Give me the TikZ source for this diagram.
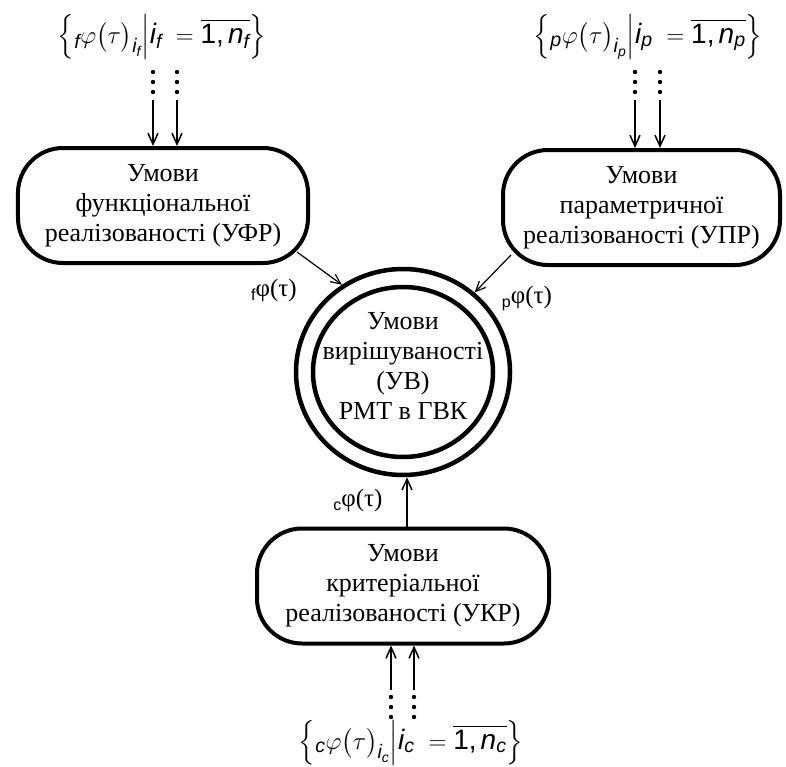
\documentclass[tikz,border=0pt]{standalone}
\usepackage{amsmath}
\usepackage{fontspec}
\setmainfont{Liberation Serif}
\newfontfamily\asans{Liberation Sans}
\usetikzlibrary{arrows.meta,calc,shapes.geometric}
\newcommand\boxfont{\fontsize{26bp}{30bp}\selectfont}
\newcommand\lblfont{\fontsize{25bp}{28bp}\selectfont}
\newcommand\frmfont{\fontsize{28bp}{32bp}\selectfont}
\newcommand\ai[1]{\text{\asans\itshape #1}}
\newcommand\setf[1]{$\left\{\vrule height 22bp depth 13bp width 0pt{}_{\ai{#1}}\varphi\bigl(\tau\bigr)_{\ai{i}_{\ai{#1}}}\middle|\ai{i}_{\ai{#1}}\;=\overline{\text{\asans 1,}\,\ai{n}_{\ai{#1}}}\right\}$}
\newcommand\lsub[1]{\raisebox{-4bp}{\asans\fontsize{16bp}{16bp}\selectfont #1}}
\begin{document}
\begin{tikzpicture}[x=1bp,y=-1bp,
  box/.style={draw, line width=4bp, rounded corners=45bp, minimum height=115bp, align=center, font=\boxfont, inner sep=0pt},
  ring/.style={draw, ellipse, line width=4.5bp, inner sep=0pt},
  arr/.style={-{Straight Barb[length=11bp,width=10bp]}, line width=1.5bp},
  darr/.style={-{Straight Barb[length=10bp,width=9bp]}, line width=1.2bp},
  lbl/.style={font=\lblfont, inner sep=0pt},
  frm/.style={inner sep=0pt, font=\frmfont},
  txt/.style={font=\boxfont, align=center, inner sep=0pt}]
\useasboundingbox (0,0) rectangle (786,767);

% boxes
\node[box, minimum width=290bp] (uf) at (163,205.5) {Умови\\функціональної\\реалізованості (УФР)};
\node[box, minimum width=277bp] (up) at (641.5,207.5) {Умови\\параметричної\\реалізованості (УПР)};
\node[box, minimum width=292bp] (uk) at (403,586) {Умови\\критеріальної\\реалізованості (УКР)};

% central double circle
\node[ring, minimum width=214bp, minimum height=206bp] (uv) at (403,372) {};
\node[ring, minimum width=180bp, minimum height=170bp] (uvi) at (403,372) {};
\node[txt] (uvt) at (403,366) {Умови\\вирішуваності\\(УВ)\\РМТ в ГВК};

% connectors to the circle
\draw[darr] ($(uf.south east)+(-13,-13)$) -- (uv.125);
\draw[darr] ($(up.south west)+(10,-12)$) -- (uv.48);
\draw[arr] ($(uk.north)+(4,0)$) -- ($(uv.south)+(4,0)$);

% labels
\node[lbl] (lf) at (274,290) {\lsub{f}φ(τ)};
\node[lbl] (lp) at (527,298) {\lsub{p}φ(τ)};
\node[lbl] (lc) at (358,500) {\lsub{c}φ(τ)};

% sets
\node[frm] (ff) at (162,37) {\setf{f}};
\node[frm] (fp) at (648,37) {\setf{p}};
\node[frm] (fc) at (411,743) {\setf{c}};

% input arrows with dots
\coordinate (fa1) at (153,100); \coordinate (fa2) at (177,100);
\coordinate (pa1) at (635,100); \coordinate (pa2) at (660,100);
\coordinate (ca1) at (391,690); \coordinate (ca2) at (414,690);
\draw[arr] (fa1) -- (uf.north -| fa1);
\draw[arr] (fa2) -- (uf.north -| fa2);
\draw[arr] (pa1) -- (up.north -| pa1);
\draw[arr] (pa2) -- (up.north -| pa2);
\draw[arr] (ca1) -- (uk.south -| ca1);
\draw[arr] (ca2) -- (uk.south -| ca2);
\foreach \x in {153,177,635,660} \foreach \y in {72,82,92} \fill (\x,\y) circle (2.2);
\foreach \x in {391,414} \foreach \y in {697,707,717} \fill (\x,\y) circle (2.2);
\end{tikzpicture}
\end{document}
